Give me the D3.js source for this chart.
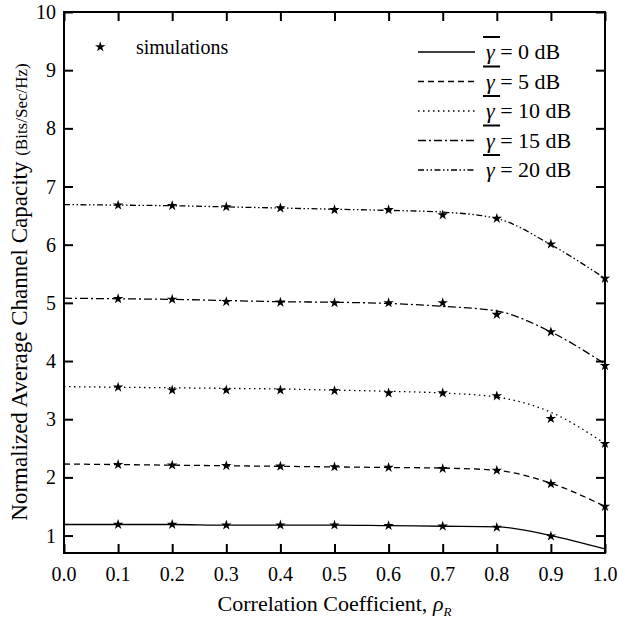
<!DOCTYPE html>
<html>
<head>
<meta charset="utf-8">
<script src="https://cdn.jsdelivr.net/npm/d3@7.8.5/dist/d3.min.js"></script>
</head>
<body style="margin:0;background:#fff">
<div id="fig"></div>
<script>
// x values (correlation coefficient)
const rho = [0.0, 0.1, 0.2, 0.3, 0.4, 0.5, 0.6, 0.7, 0.8, 0.9, 1.0];

// analytical curves
const line0dB  = [1.19, 1.19, 1.19, 1.18, 1.18, 1.18, 1.17, 1.16, 1.15, 1.00, 0.77];
const line5dB  = [2.23, 2.22, 2.21, 2.20, 2.19, 2.18, 2.17, 2.16, 2.12, 1.90, 1.50];
const line10dB = [3.56, 3.55, 3.54, 3.53, 3.52, 3.50, 3.48, 3.45, 3.38, 3.12, 2.58];
const line15dB = [5.08, 5.07, 5.06, 5.04, 5.02, 5.01, 4.99, 4.94, 4.86, 4.50, 3.95];
const line20dB = [6.69, 6.68, 6.67, 6.65, 6.63, 6.61, 6.59, 6.56, 6.45, 6.00, 5.42];

// simulation points
const sim0dB  = [null, 1.19, 1.19, 1.18, 1.18, 1.18, 1.17, 1.16, 1.14, 0.99, null];
const sim5dB  = [null, 2.22, 2.21, 2.20, 2.19, 2.18, 2.17, 2.15, 2.12, 1.89, 1.50];
const sim10dB = [null, 3.55, 3.50, 3.50, 3.50, 3.49, 3.45, 3.45, 3.40, 3.01, 2.58];
const sim15dB = [null, 5.07, 5.06, 5.02, 5.01, 5.00, 5.00, 5.00, 4.80, 4.50, 3.92];
const sim20dB = [null, 6.68, 6.67, 6.65, 6.63, 6.60, 6.60, 6.51, 6.45, 6.01, 5.42];

const snrLabels = ['0', '5', '10', '15', '20'];
const xTicks = [0.0, 0.1, 0.2, 0.3, 0.4, 0.5, 0.6, 0.7, 0.8, 0.9, 1.0];
const yTicks = [1, 2, 3, 4, 5, 6, 7, 8, 9, 10];

const lines = [line0dB, line5dB, line10dB, line15dB, line20dB];
const sims = [sim0dB, sim5dB, sim10dB, sim15dB, sim20dB];
const dashes = [null, '6,4', '1.5,3.5', '8,3,2,3', '6,2.5,1.5,2.5,1.5,2.5'];

const FONT = '"Liberation Serif", "Times New Roman", serif';
const width = 619, height = 625;
const margin = { top: 12, right: 14, bottom: 72, left: 64 };
const w = width - margin.left - margin.right;
const h = height - margin.top - margin.bottom;

const svg = d3.select('#fig').append('svg')
    .attr('width', width)
    .attr('height', height);

const g = svg.append('g')
    .attr('transform', `translate(${margin.left},${margin.top})`);

const x = d3.scaleLinear().domain([0, 1]).range([0, w]);
const y = d3.scaleLinear().domain([0.7, 10]).range([h, 0]);

// serif text helper
function label(parent, size) {
    return parent.append('text')
        .attr('font-family', 'Liberation Serif')
        .attr('font-size', size)
        .style('font-family', FONT, 'important');
}

// curves
const lineGen = d3.line()
    .defined(d => d[1] != null)
    .x(d => x(d[0]))
    .y(d => y(d[1]))
    .curve(d3.curveMonotoneX);

lines.forEach((vals, i) => {
    g.append('path')
        .datum(rho.map((r, j) => [r, vals[j]]))
        .attr('d', lineGen)
        .attr('fill', 'none')
        .attr('stroke', '#000')
        .attr('stroke-width', 1.3)
        .attr('stroke-dasharray', dashes[i]);
});

// simulation stars
const star = d3.symbol().type(d3.symbolStar).size(34);
sims.forEach(vals => {
    g.selectAll(null)
        .data(rho.map((r, j) => [r, vals[j]]).filter(d => d[1] != null))
        .enter()
        .append('path')
        .attr('d', star)
        .attr('transform', d => `translate(${x(d[0])},${y(d[1])})`)
        .attr('fill', '#000');
});

// axes with inward ticks (major + minor) on all sides
const xMinor = d3.range(0.05, 1, 0.1);
const yMinor = d3.range(1.5, 10, 1);

function drawAxis(axisFn, scale, major, minor, transform) {
    const a = g.append('g').attr('transform', transform || null);
    a.call(axisFn(scale).tickValues(minor).tickSize(-5).tickFormat(''));
    a.call(axisFn(scale).tickValues(major).tickSize(-9).tickFormat(''));
    a.selectAll('path').remove();
    a.selectAll('text').remove();
    a.selectAll('line').attr('stroke', '#000').attr('stroke-width', 2);
    return a;
}

drawAxis(d3.axisBottom, x, xTicks, xMinor, `translate(0,${h})`);
drawAxis(d3.axisTop, x, xTicks, xMinor);
drawAxis(d3.axisLeft, y, yTicks, yMinor);
drawAxis(d3.axisRight, y, yTicks, yMinor, `translate(${w},0)`);

g.append('rect')
    .attr('width', w)
    .attr('height', h)
    .attr('fill', 'none')
    .attr('stroke', '#000')
    .attr('stroke-width', 2);

// tick labels
xTicks.forEach(v => {
    label(g, 20)
        .attr('x', x(v))
        .attr('y', h + 28)
        .attr('text-anchor', 'middle')
        .text(v.toFixed(1));
});

yTicks.forEach(v => {
    label(g, 20)
        .attr('x', -8)
        .attr('y', y(v))
        .attr('dy', '0.35em')
        .attr('text-anchor', 'end')
        .text(v);
});

// axis titles
const xt = label(svg, 22)
    .attr('x', margin.left + w / 2)
    .attr('y', 611)
    .attr('text-anchor', 'middle');
xt.append('tspan').text('Correlation Coefficient, ');
xt.append('tspan').attr('font-style', 'italic').text('ρ');
xt.append('tspan').attr('font-style', 'italic').attr('font-size', 13).attr('dy', 5).text('R');

const yt = label(svg, 23)
    .attr('transform', 'translate(27,292) rotate(-90)')
    .attr('text-anchor', 'middle');
yt.append('tspan').text('Normalized Average Channel Capacity ');
yt.append('tspan').attr('font-size', 17).text('(Bits/Sec/Hz)');

// simulations legend
g.append('path')
    .attr('d', star)
    .attr('transform', `translate(${x(0.067)},${y(9.4)})`)
    .attr('fill', '#000');
label(g, 20)
    .attr('x', x(0.133))
    .attr('y', y(9.4))
    .attr('dy', '0.35em')
    .text('simulations');

// line legend
const legRows = [52, 81.5, 111, 140.5, 170];
snrLabels.forEach((lab, i) => {
    const ly = legRows[i];
    svg.append('line')
        .attr('x1', 418).attr('x2', 475)
        .attr('y1', ly).attr('y2', ly)
        .attr('stroke', '#000')
        .attr('stroke-width', 1.3)
        .attr('stroke-dasharray', dashes[i]);
    svg.append('line')
        .attr('x1', 483).attr('x2', 500)
        .attr('y1', ly - 15).attr('y2', ly - 15)
        .attr('stroke', '#000')
        .attr('stroke-width', 2);
    const t = label(svg, 22)
        .attr('x', 486)
        .attr('y', ly + 7);
    t.append('tspan').attr('font-style', 'italic').text('γ');
    t.append('tspan').text(` = ${lab} dB`);
});
</script>
</body>
</html>
